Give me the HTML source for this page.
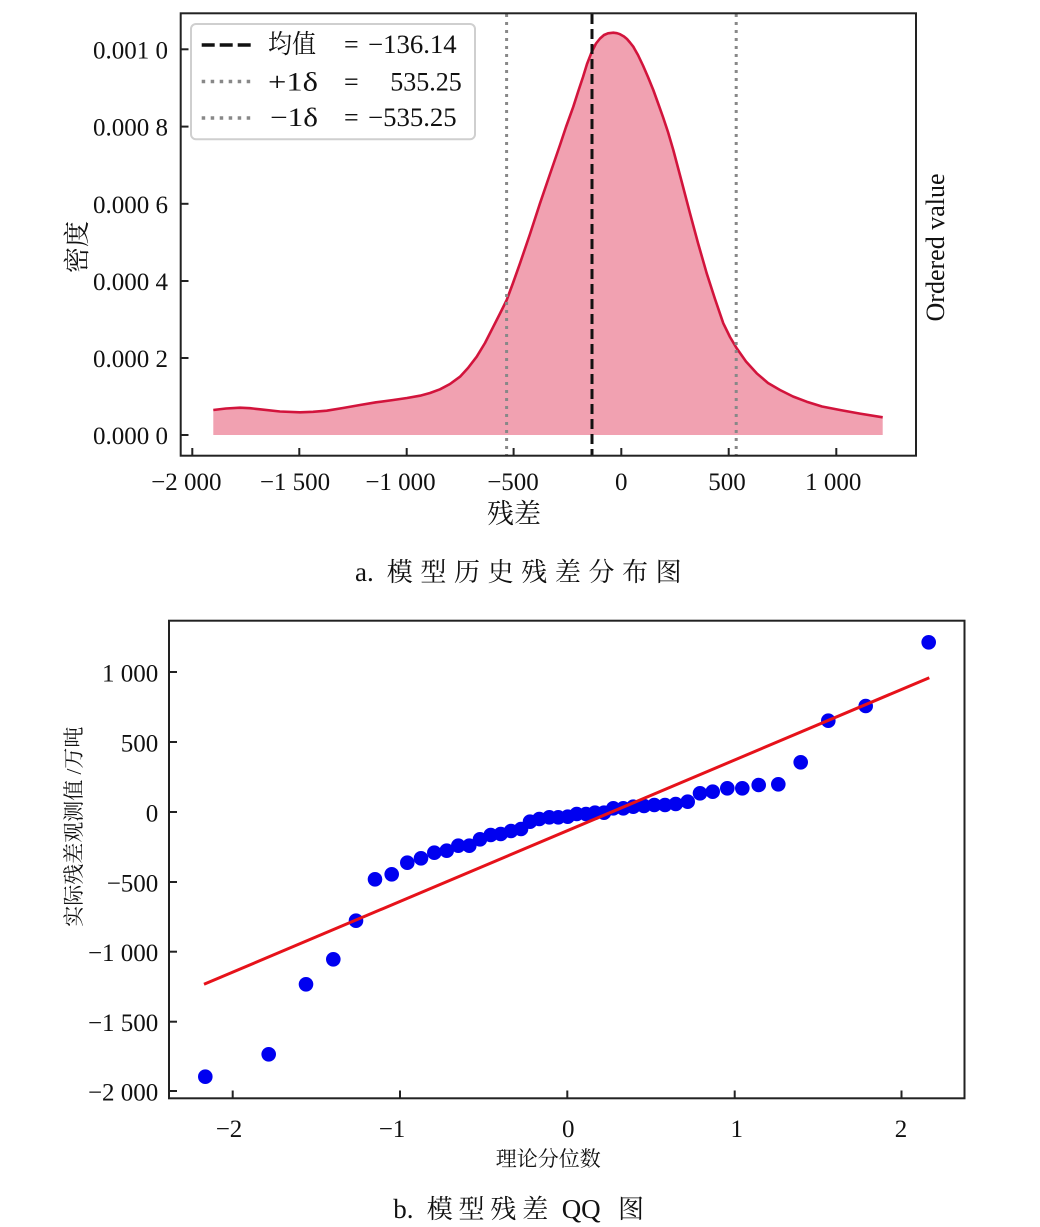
<!DOCTYPE html>
<html>
<head>
<meta charset="utf-8">
<style>
html,body{margin:0;padding:0;background:#fff;}
svg{display:block;}
text{font-family:"Liberation Serif","Noto Serif CJK SC",serif;fill:#111;}
</style>
</head>
<body>
<svg width="1040" height="1227" viewBox="0 0 1040 1227" xmlns="http://www.w3.org/2000/svg">
<rect width="1040" height="1227" fill="#fff"/>

<polygon fill="#f1a1b1" stroke="none" points="213.3,410 226,408.5 240,407.7 250,408.2 260,409.3 280,411.5 300,412.3 313,411.8 326.7,410.7 343,408 360,405 376,402.3 393.3,400 407,398 420,395.7 430,393 440,389.3 450,384 460,376.7 468,368 476.7,356.7 485,343 493.3,326.7 500,313.5 506.7,300 513,283 520,263.3 530,234 540,203.3 550,174 560,145 566,127 573.3,106.7 578,92 583,77 587,64 591.7,52 596,43.5 600,38.5 604,35 608,33.3 613.3,32.7 617,33.2 620,34.2 624,36.5 627,39 630,42.5 633.3,46.7 638,55 643,65.5 648,77 653.3,90 658,103 663,117 668,132 673.3,150 681,179 690,213.3 698,243 706.7,273.3 715,299 723.3,323.3 730,337 736.7,348.3 746,361.5 756.7,373.3 768,383 780,390 793,396.5 806.7,401.7 822,406.5 840,410 860,413.6 882.7,417.3 882.7,435 213.3,435"/>
<polyline fill="none" stroke="#d2143c" stroke-width="2.6" stroke-linejoin="round" points="213.3,410 226,408.5 240,407.7 250,408.2 260,409.3 280,411.5 300,412.3 313,411.8 326.7,410.7 343,408 360,405 376,402.3 393.3,400 407,398 420,395.7 430,393 440,389.3 450,384 460,376.7 468,368 476.7,356.7 485,343 493.3,326.7 500,313.5 506.7,300 513,283 520,263.3 530,234 540,203.3 550,174 560,145 566,127 573.3,106.7 578,92 583,77 587,64 591.7,52 596,43.5 600,38.5 604,35 608,33.3 613.3,32.7 617,33.2 620,34.2 624,36.5 627,39 630,42.5 633.3,46.7 638,55 643,65.5 648,77 653.3,90 658,103 663,117 668,132 673.3,150 681,179 690,213.3 698,243 706.7,273.3 715,299 723.3,323.3 730,337 736.7,348.3 746,361.5 756.7,373.3 768,383 780,390 793,396.5 806.7,401.7 822,406.5 840,410 860,413.6 882.7,417.3"/>

<line x1="592" y1="14" x2="592" y2="455" stroke="#111" stroke-width="3" stroke-dasharray="10,5"/>
<line x1="506.6" y1="14" x2="506.6" y2="455" stroke="#888" stroke-width="3" stroke-dasharray="3,5"/>
<line x1="736.2" y1="14" x2="736.2" y2="455" stroke="#888" stroke-width="3" stroke-dasharray="3,5"/>

<rect x="180.7" y="13.3" width="735.3" height="442.4" fill="none" stroke="#222" stroke-width="2"/>

<g stroke="#222" stroke-width="2">
<line x1="180.7" y1="49.3" x2="188.5" y2="49.3"/>
<line x1="180.7" y1="126.6" x2="188.5" y2="126.6"/>
<line x1="180.7" y1="203.8" x2="188.5" y2="203.8"/>
<line x1="180.7" y1="281" x2="188.5" y2="281"/>
<line x1="180.7" y1="358" x2="188.5" y2="358"/>
<line x1="180.7" y1="435" x2="188.5" y2="435"/>
<line x1="192.3" y1="455.7" x2="192.3" y2="448"/>
<line x1="299.3" y1="455.7" x2="299.3" y2="448"/>
<line x1="406.7" y1="455.7" x2="406.7" y2="448"/>
<line x1="513.6" y1="455.7" x2="513.6" y2="448"/>
<line x1="621.3" y1="455.7" x2="621.3" y2="448"/>
<line x1="728.7" y1="455.7" x2="728.7" y2="448"/>
<line x1="836.3" y1="455.7" x2="836.3" y2="448"/>
</g>

<g font-size="25" text-anchor="end">
<text x="168" y="58.3">0.001 0</text>
<text x="168" y="135.6">0.000 8</text>
<text x="168" y="212.8">0.000 6</text>
<text x="168" y="290">0.000 4</text>
<text x="168" y="367">0.000 2</text>
<text x="168" y="444">0.000 0</text>
</g>
<g font-size="25" text-anchor="middle">
<text x="186.3" y="490">−2 000</text>
<text x="295" y="490">−1 500</text>
<text x="400.5" y="490">−1 000</text>
<text x="513" y="490">−500</text>
<text x="621.3" y="490">0</text>
<text x="727" y="490">500</text>
<text x="833.3" y="490">1 000</text>
</g>

<text x="514" y="523" font-size="27" text-anchor="middle">残差</text>
<text transform="translate(86,247) rotate(-90)" font-size="26" text-anchor="middle">密度</text>
<text transform="translate(944,247.5) rotate(-90)" font-size="26" text-anchor="middle">Ordered value</text>

<rect x="191" y="24" width="284" height="115.3" rx="5" ry="5" fill="#fff" stroke="#cfcfcf" stroke-width="2"/>
<line x1="201.7" y1="45" x2="255" y2="45" stroke="#111" stroke-width="3.5" stroke-dasharray="13,5"/>
<line x1="201.7" y1="81.5" x2="255" y2="81.5" stroke="#888" stroke-width="3.5" stroke-dasharray="3.5,5.5"/>
<line x1="201.7" y1="118" x2="255" y2="118" stroke="#888" stroke-width="3.5" stroke-dasharray="3.5,5.5"/>
<g font-size="26">
<text x="268" y="53" textLength="48" lengthAdjust="spacingAndGlyphs">均值</text>
<text x="344" y="53">=</text>
<text x="368" y="53" textLength="88.7" lengthAdjust="spacingAndGlyphs">−136.14</text>
<text x="268" y="90.5" textLength="50" lengthAdjust="spacingAndGlyphs">+1δ</text>
<text x="344" y="90.5">=</text>
<text x="461.7" y="90.5" text-anchor="end">535.25</text>
<text x="270" y="126" textLength="48" lengthAdjust="spacingAndGlyphs">−1δ</text>
<text x="344" y="126">=</text>
<text x="368" y="126" textLength="88.7" lengthAdjust="spacingAndGlyphs">−535.25</text>
</g>

<text x="355" y="581" font-size="27">a.</text>
<text x="386.7" y="581" font-size="26" textLength="295" lengthAdjust="spacing">模型历史残差分布图</text>

<rect x="169" y="620.7" width="795.5" height="477.6" fill="none" stroke="#222" stroke-width="2"/>
<g stroke="#222" stroke-width="2">
<line x1="169" y1="672" x2="177" y2="672"/>
<line x1="169" y1="742" x2="177" y2="742"/>
<line x1="169" y1="812" x2="177" y2="812"/>
<line x1="169" y1="882" x2="177" y2="882"/>
<line x1="169" y1="951.7" x2="177" y2="951.7"/>
<line x1="169" y1="1021.7" x2="177" y2="1021.7"/>
<line x1="169" y1="1091" x2="177" y2="1091"/>
<line x1="232.7" y1="1098.3" x2="232.7" y2="1090.5"/>
<line x1="400" y1="1098.3" x2="400" y2="1090.5"/>
<line x1="567.3" y1="1098.3" x2="567.3" y2="1090.5"/>
<line x1="734.7" y1="1098.3" x2="734.7" y2="1090.5"/>
<line x1="901.5" y1="1098.3" x2="901.5" y2="1090.5"/>
</g>
<g font-size="25" text-anchor="end">
<text x="158.3" y="681.5">1 000</text>
<text x="158.3" y="751.5">500</text>
<text x="158.3" y="821.5">0</text>
<text x="158.3" y="891.5">−500</text>
<text x="158.3" y="961.2">−1 000</text>
<text x="158.3" y="1031.2">−1 500</text>
<text x="158.3" y="1100.5">−2 000</text>
</g>
<g font-size="25" text-anchor="middle">
<text x="229" y="1137">−2</text>
<text x="392" y="1137">−1</text>
<text x="568.3" y="1137">0</text>
<text x="736.7" y="1137">1</text>
<text x="901" y="1137">2</text>
</g>
<text x="548.3" y="1166" font-size="21" text-anchor="middle">理论分位数</text>
<text transform="translate(81,826.7) rotate(-90)" font-size="21" text-anchor="middle">实际残差观测值 /万吨</text>

<g fill="#0000f0">
<circle cx="205.3" cy="1076.7" r="7.3"/>
<circle cx="268.7" cy="1054.3" r="7.3"/>
<circle cx="306" cy="984.3" r="7.3"/>
<circle cx="333.3" cy="959.3" r="7.3"/>
<circle cx="356" cy="920.7" r="7.3"/>
<circle cx="375" cy="879.3" r="7.3"/>
<circle cx="391.7" cy="874.3" r="7.3"/>
<circle cx="407.3" cy="862.7" r="7.3"/>
<circle cx="421" cy="858.3" r="7.3"/>
<circle cx="434.3" cy="852.7" r="7.3"/>
<circle cx="446.7" cy="850.7" r="7.3"/>
<circle cx="458.3" cy="845.7" r="7.3"/>
<circle cx="469.3" cy="845.7" r="7.3"/>
<circle cx="480" cy="839.3" r="7.3"/>
<circle cx="490.7" cy="835" r="7.3"/>
<circle cx="500.7" cy="834" r="7.3"/>
<circle cx="511" cy="831" r="7.3"/>
<circle cx="521" cy="829" r="7.3"/>
<circle cx="530" cy="821.7" r="7.3"/>
<circle cx="539.3" cy="819" r="7.3"/>
<circle cx="549.3" cy="817.3" r="7.3"/>
<circle cx="558.3" cy="817.3" r="7.3"/>
<circle cx="567.7" cy="816.7" r="7.3"/>
<circle cx="576.7" cy="814" r="7.3"/>
<circle cx="586" cy="814" r="7.3"/>
<circle cx="595" cy="812.7" r="7.3"/>
<circle cx="604" cy="812.7" r="7.3"/>
<circle cx="613.3" cy="808.3" r="7.3"/>
<circle cx="623.3" cy="808.3" r="7.3"/>
<circle cx="633.3" cy="806.7" r="7.3"/>
<circle cx="644" cy="806" r="7.3"/>
<circle cx="654.3" cy="805" r="7.3"/>
<circle cx="665" cy="805" r="7.3"/>
<circle cx="675.7" cy="804" r="7.3"/>
<circle cx="687.7" cy="801.7" r="7.3"/>
<circle cx="700" cy="793.3" r="7.3"/>
<circle cx="712.7" cy="791.7" r="7.3"/>
<circle cx="727.3" cy="788.3" r="7.3"/>
<circle cx="742.3" cy="788.3" r="7.3"/>
<circle cx="758.7" cy="785" r="7.3"/>
<circle cx="778.3" cy="784.3" r="7.3"/>
<circle cx="800.7" cy="762.3" r="7.3"/>
<circle cx="828.3" cy="720.7" r="7.3"/>
<circle cx="865.7" cy="706" r="7.3"/>
<circle cx="928.7" cy="642.3" r="7.3"/>
</g>
<line x1="204" y1="984.3" x2="929.3" y2="677.7" stroke="#e6121a" stroke-width="3"/>

<text x="393.3" y="1218" font-size="27">b.</text>
<text x="426.7" y="1218" font-size="26" textLength="121.6" lengthAdjust="spacing">模型残差</text>
<text x="561.7" y="1218" font-size="27">QQ</text>
<text x="618" y="1218" font-size="26">图</text>
</svg>
</body>
</html>
